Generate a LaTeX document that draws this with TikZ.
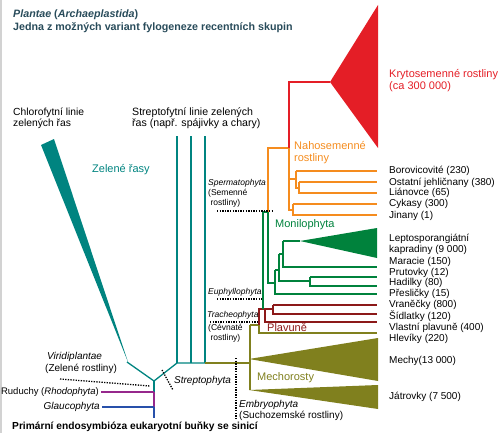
\documentclass[tikz,border=0pt]{standalone}
\usepackage{fontspec}
\setmainfont{Liberation Sans}
\definecolor{zelena}{RGB}{0,132,128}
\definecolor{kryto}{RGB}{228,30,38}
\definecolor{naho}{RGB}{245,140,30}
\definecolor{moni}{RGB}{0,130,60}
\definecolor{plavun}{RGB}{140,25,25}
\definecolor{mech}{RGB}{128,128,30}
\definecolor{rudu}{RGB}{150,40,140}
\definecolor{glau}{RGB}{40,80,170}
\definecolor{nadpis}{RGB}{40,75,90}
\tikzset{
  clade/.style={line width=1.3pt},
  taxon/.style={anchor=west, inner sep=0pt, align=left},
  skupina/.style={anchor=west, inner sep=0pt, align=left, font=\fontsize{11}{12}\selectfont},
  anno/.style={anchor=west, inner sep=0pt, align=left, font=\fontsize{8.5}{10}\selectfont},
  dotsep/.style={line width=1.3pt, dash pattern=on 1.3pt off 1.3pt}
}
\begin{document}
\begin{tikzpicture}[x=1pt,y=-1pt,font=\fontsize{10}{11}\selectfont]
    \useasboundingbox (0,0) rectangle (500,433);
    \draw [gray!35, line width=1.5pt] (0.75,0) -- (0.75,433);
    % nadpisy
    \node[taxon, nadpis, font=\fontsize{10.7}{12}\selectfont\bfseries] (t1) at (13,15) {\textit{Plantae} (\textit{Archaeplastida})};
    \node[taxon, nadpis, font=\fontsize{10.7}{12}\selectfont\bfseries] (t2) at (13,28) {Jedna z možných variant fylogeneze recentních skupin};
    \node[taxon, font=\fontsize{10.2}{11}\selectfont\bfseries] (t3) at (12,427) {Primární endosymbióza eukaryotní buňky se sinicí};
    \node[taxon, font=\fontsize{10.3}{11}\selectfont] (chlor) at (13,118) {Chlorofytní linie\\zelených řas};
    \node[taxon, font=\fontsize{10.6}{11}\selectfont] (strep) at (132,118) {Streptofytní linie zelených\\řas (např. spájivky a chary)};
    \node[skupina, zelena] (zel) at (92,170) {Zelené řasy};
    % zelene rasy
    \fill [zelena] (41,145) -- (54,139) -- (128,362) -- cycle;
    \draw [clade, zelena] (127,362) -- (154,381) -- (177,363) -- (205,363);
    \foreach \x in {177,191,205} {
        \draw [clade, zelena] (\x,363) -- (\x,136);
    }
    \draw [clade, zelena] (154,381) -- (154,392);
    \draw [clade, rudu] (154,392) -- (154,407) (154,392) -- (101,392);
    \draw [clade, glau] (154,407) -- (154,418) (154,407) -- (102,407);
    % mechorosty
    \draw [clade, mech] (205,363) -- (250,363) (250,325) -- (250,390) (250,325) -- (259,325) -- (259,333) -- (377,333);
    \fill [mech] (249,359) -- (378,338) -- (378,381) -- cycle; % mechy
    \fill [mech] (249,390) -- (378,385) -- (378,409) -- cycle; % jatrovky
    % plavune
    \draw [clade, plavun] (259,325) -- (259,309) -- (273,309) (265,309) -- (265,322) -- (377,322);
    \draw [clade, plavun] (273,305) -- (273,314) -- (377,314);
    \draw [plavun, line width=2.2pt] (273,305) -- (377,305);
    % kapradiny
    \draw [clade, moni] (263,309) -- (263,212) -- (268,212) -- (268,283) -- (275,283);
    \draw [clade, moni] (275,270) -- (275,294) -- (377,294) (275,270) -- (279,270);
    \draw [clade, moni] (279,254) -- (279,281) -- (310,281) (279,254) -- (283,254);
    \draw [clade, moni] (283,241) -- (283,267) -- (377,267) (283,241) -- (300,241);
    \draw [clade, moni] (310,277) -- (310,286) -- (377,286) (310,277) -- (377,277);
    \fill [moni] (300,241) -- (377,228) -- (377,258) -- cycle;
    % semenne rostliny
    \draw [clade, naho] (268,212) -- (268,148) -- (289,148) -- (289,210) -- (293,210) (289,179) -- (296,179);
    \draw [clade, naho] (296,171) -- (296,188) -- (299,188) (296,171) -- (377,171);
    \draw [clade, naho] (299,182) -- (299,193) -- (377,193) (299,182) -- (377,182);
    \draw [clade, naho] (293,204) -- (293,215) -- (377,215) (293,204) -- (377,204);
    \draw [clade, kryto] (289,148) -- (289,82) -- (330,82);
    \fill [kryto] (330,82) -- (378,5) -- (378,148) -- cycle;
    % popisky skupin
    \node[skupina, kryto] (kr) at (389,81) {Krytosemenné rostliny\\(ca 300 000)};
    \node[skupina, naho] (nh) at (294,153) {Nahosemenné\\rostliny};
    \node[skupina, moni] (mn) at (275,225) {Monilophyta};
    \node[skupina, plavun] (pl) at (267,328) {Plavuně};
    \node[skupina, mech] (mc) at (257,378) {Mechorosty};
    \foreach \y/\txt [count=\i] in {171/Borovicovité (230), 183/Ostatní jehličnany (380), 193/Liánovce (65), 204/Cykasy (300), 216/Jinany (1), 262/Maracie (150), 273/Prutovky (12), 283/Hadilky (80), 294/Přesličky (15), 305/Vraněčky (800), 316/Šídlatky (120), 328/Vlastní plavuně (400), 339/Hlevíky (220), 361/Mechy(13 000), 397/Játrovky (7 500)} {
        \node[taxon] (tx\i) at (389,\y) {\txt};
    }
    \node[taxon] (lepto) at (389,244) {Leptosporangiátní\\kapradiny (9 000)};
    % klady
    \draw [dotsep] (217,211) -- (273,211);
    \node[anno] (sperm) at (208,193) {\textit{Spermatophyta}\\(Semenné\\\ rostliny)};
    \draw [dotsep] (217,299) -- (262,299);
    \node[anno] (euph) at (208,292) {\textit{Euphyllophyta}};
    \draw [dotsep] (210,322) -- (258,322);
    \node[anno] (trach) at (207,315) {\textit{Tracheophyta}};
    \node[anno] (cevn) at (208,333) {(Cévnaté\\\ rostliny)};
    \draw [dotsep] (236,358) -- (236,418);
    \node[taxon] (embr) at (239,405) {\textit{Embryophyta}};
    \node[taxon] (such) at (239,416) {(Suchozemské rostliny)};
    \draw [dotsep] (162,370) -- (173,390);
    \node[taxon] (strp) at (174,381) {\textit{Streptophyta}};
    \draw [dotsep] (60,379) -- (150,386);
    \node[taxon] (viri) at (47,357) {\textit{Viridiplantae}};
    \node[taxon] (zelr) at (45,369) {(Zelené rostliny)};
    \node[taxon, anchor=east, font=\fontsize{9.5}{11}\selectfont] (rhod) at (99,392) {Ruduchy (\textit{Rhodophyta})};
    \node[taxon, anchor=east] (glauc) at (100,407) {\textit{Glaucophyta}};
\end{tikzpicture}
\end{document}
